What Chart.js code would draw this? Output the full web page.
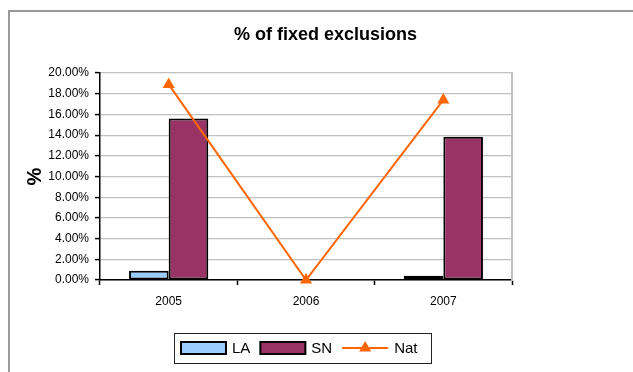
<!DOCTYPE html>
<html>
<head>
<meta charset="utf-8">
<script src="https://cdn.jsdelivr.net/npm/chart.js@4.4.1/dist/chart.umd.min.js"></script>
<style>
  html, body { margin: 0; padding: 0; background: #fff; }
  #wrap { width: 633px; height: 372px; }
</style>
</head>
<body>
<div id="wrap"><canvas id="exclusions" width="633" height="372"></canvas></div>
<script>
// chart data
const years = ['2005', '2006', '2007'];
const laValues = [0.009, null, 0.004];
const snValues = [0.156, null, 0.1385];
const natValues = [0.189, 0, 0.174];
const yTicks = [0, 0.02, 0.04, 0.06, 0.08, 0.10, 0.12, 0.14, 0.16, 0.18, 0.20];

const FONT = 'Arial, "Liberation Sans", sans-serif';

// grey frame round the whole chart object, plus white background
const framePlugin = {
    id: 'frame',
    beforeDraw(chart) {
        const ctx = chart.ctx;
        ctx.save();
        ctx.fillStyle = '#fff';
        ctx.fillRect(0, 0, chart.width, chart.height);
        ctx.strokeStyle = '#999';
        ctx.lineWidth = 2;
        ctx.strokeRect(9, 11, 700, 500);
        ctx.restore();
    }
};

// excel style legend box under the plot
const legendPlugin = {
    id: 'boxLegend',
    afterDraw(chart) {
        const ctx = chart.ctx;
        ctx.save();
        ctx.strokeStyle = '#222';
        ctx.lineWidth = 1;
        ctx.strokeRect(174.5, 333.5, 257, 30);

        ctx.font = '15px ' + FONT;
        ctx.textBaseline = 'middle';
        let x = 181;
        const cy = 348;
        chart.data.datasets.forEach(ds => {
            if (ds.type === 'line') {
                ctx.strokeStyle = ds.borderColor;
                ctx.lineWidth = 2;
                ctx.beginPath();
                ctx.moveTo(x, cy);
                ctx.lineTo(x + 46, cy);
                ctx.stroke();
                ctx.fillStyle = ds.borderColor;
                const r = 7, tx = x + 23;
                ctx.beginPath();
                ctx.moveTo(tx, cy - r);
                ctx.lineTo(tx + r * 0.866, cy + r * 0.5);
                ctx.lineTo(tx - r * 0.866, cy + r * 0.5);
                ctx.closePath();
                ctx.fill();
                x += 46;
            } else {
                ctx.fillStyle = ds.backgroundColor;
                ctx.fillRect(x, cy - 6, 45, 12);
                ctx.strokeStyle = '#000';
                ctx.lineWidth = 2;
                ctx.strokeRect(x, cy - 6, 45, 12);
                x += 45;
            }
            x += 6;
            ctx.fillStyle = '#000';
            ctx.fillText(ds.label, x, cy + 1);
            x += ctx.measureText(ds.label).width + 10;
        });
        ctx.restore();
    }
};

const ctx = document.querySelector('#exclusions');
const exclusionsChart = new Chart(ctx, {
    type: 'bar',
    data: {
        labels: years,
        datasets: [
            {
                label: 'LA',
                data: laValues,
                backgroundColor: '#99CCFF',
                borderColor: '#000',
                borderWidth: 2,
                borderSkipped: false,
                order: 1
            },
            {
                label: 'SN',
                data: snValues,
                backgroundColor: '#993366',
                borderColor: '#000',
                borderWidth: 2,
                borderSkipped: false,
                order: 1
            },
            {
                type: 'line',
                label: 'Nat',
                data: natValues,
                borderColor: '#FF6600',
                backgroundColor: '#FF6600',
                borderWidth: 2,
                tension: 0,
                pointStyle: 'triangle',
                pointRadius: 7,
                pointHoverRadius: 7,
                pointBorderWidth: 0,
                clip: false,
                order: 0
            }
        ]
    },
    options: {
        responsive: false,
        animation: false,
        devicePixelRatio: 1,
        layout: { padding: { left: 18, right: 0, top: 0, bottom: 57 } },
        datasets: {
            bar: { categoryPercentage: 0.577, barPercentage: 1.0 }
        },
        plugins: {
            legend: { display: false },
            tooltip: { enabled: false },
            title: {
                display: true,
                text: '% of fixed exclusions',
                color: '#000',
                font: { family: FONT, size: 18, weight: 'bold', lineHeight: 1.2 },
                padding: { top: 24, bottom: 27.4 }
            }
        },
        scales: {
            x: {
                offset: true,
                grid: {
                    offset: true,
                    drawOnChartArea: false,
                    drawTicks: true,
                    tickLength: 5,
                    tickColor: '#000',
                    tickWidth: 1.5
                },
                border: { color: '#000', width: 1.5 },
                ticks: {
                    color: '#000',
                    padding: 9,
                    font: { family: FONT, size: 12 }
                },
                afterFit: s => { s.height = 35; }
            },
            y: {
                min: 0,
                max: 0.2,
                afterBuildTicks: s => { s.ticks = yTicks.map(v => ({ value: v })); },
                grid: {
                    color: '#c0c0c0',
                    lineWidth: 1.2,
                    drawTicks: true,
                    tickLength: 5,
                    tickColor: '#000',
                    tickWidth: 1.5
                },
                border: { color: '#000', width: 1.5 },
                ticks: {
                    color: '#000',
                    padding: 6,
                    font: { family: FONT, size: 12 },
                    callback: v => (v * 100).toFixed(2) + '%'
                },
                title: {
                    display: true,
                    text: '%',
                    color: '#000',
                    font: { family: FONT, size: 20, weight: 'bold', lineHeight: 1.2 },
                    padding: { top: 5, bottom: 0 }
                },
                afterFit: s => { s.width = 82; }
            },
            // empty axis on the right keeps room and gives the grey plot edge
            yRight: {
                position: 'right',
                display: true,
                grid: { display: false, drawTicks: false },
                ticks: { display: false },
                border: { display: true, color: '#c0c0c0', width: 2 },
                afterFit: s => { s.width = 121; }
            }
        }
    },
    plugins: [framePlugin, legendPlugin]
});
</script>
</body>
</html>
